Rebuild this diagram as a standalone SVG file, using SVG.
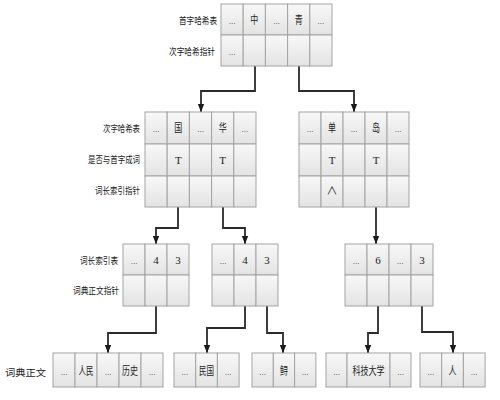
<svg xmlns="http://www.w3.org/2000/svg" width="500" height="400" viewBox="0 0 500 400">
<defs>
<linearGradient id="cg" x1="0" y1="0" x2="0" y2="1">
<stop offset="0" stop-color="#f8f8f8"/>
<stop offset="1" stop-color="#e3e3e3"/>
</linearGradient>
<marker id="arr" viewBox="0 0 8 8" markerWidth="8" markerHeight="8" refX="8" refY="4" orient="auto" markerUnits="userSpaceOnUse">
<path d="M0,0.8 L8,4 L0,7.2 z" fill="#1a1a1a"/>
</marker>
</defs>
<style>
.c{fill:url(#cg);stroke:#a3a3a3;stroke-width:1}
.t{font-family:"Liberation Serif","Noto Sans CJK SC",serif;font-size:11px;fill:#222;text-anchor:middle}
.d{font-family:"Liberation Serif",serif;font-size:9px;fill:#444;text-anchor:middle}
.l{font-family:"Noto Sans CJK SC","Liberation Serif",serif;font-size:9.5px;fill:#222}
.k{fill:none;stroke:#2b2b2b;stroke-width:1.8;marker-end:url(#arr)}
</style>
<rect width="500" height="400" fill="#ffffff"/>

<g id="connectors">
<path class="k" d="M255,66 V91 H201 V112"/>
<path class="k" d="M299,66 V91 H354 V112"/>
<path class="k" d="M178,207 V228 H156 V244"/>
<path class="k" d="M223,207 V228 H245 V244"/>
<path class="k" d="M376,207 V244"/>
<path class="k" d="M156,306 V333 H108 V353"/>
<path class="k" d="M245,306 V328 H207 V353"/>
<path class="k" d="M267,306 V333 H283 V353"/>
<path class="k" d="M378,306 V333 H368 V353"/>
<path class="k" d="M422,306 V332 H453 V353"/>
</g>

<g id="first-hash">
<text class="l" x="179" y="24" textLength="38" lengthAdjust="spacingAndGlyphs">首字哈希表</text>
<text class="l" x="169" y="55" textLength="46" lengthAdjust="spacingAndGlyphs">次字哈希指针</text>
<rect class="c" x="221" y="4" width="22.2" height="31"/>
<rect class="c" x="243.2" y="4" width="22.2" height="31"/>
<rect class="c" x="265.4" y="4" width="22.2" height="31"/>
<rect class="c" x="287.6" y="4" width="22.2" height="31"/>
<rect class="c" x="309.8" y="4" width="22.2" height="31"/>
<rect class="c" x="221" y="35" width="22.2" height="31"/>
<rect class="c" x="243.2" y="35" width="22.2" height="31"/>
<rect class="c" x="265.4" y="35" width="22.2" height="31"/>
<rect class="c" x="287.6" y="35" width="22.2" height="31"/>
<rect class="c" x="309.8" y="35" width="22.2" height="31"/>
<text class="d" x="232.1" y="24">...</text>
<text class="t" x="254.3" y="24" textLength="8" lengthAdjust="spacingAndGlyphs">中</text>
<text class="d" x="276.5" y="24">...</text>
<text class="t" x="298.7" y="24" textLength="8" lengthAdjust="spacingAndGlyphs">青</text>
<text class="d" x="320.9" y="24">...</text>
<text class="d" x="232.1" y="55">...</text>
</g>

<g id="second-hash-left">
<text class="l" x="103" y="132" textLength="37" lengthAdjust="spacingAndGlyphs">次字哈希表</text>
<text class="l" x="88" y="163" textLength="52" lengthAdjust="spacingAndGlyphs">是否与首字成词</text>
<text class="l" x="95" y="194" textLength="45" lengthAdjust="spacingAndGlyphs">词长索引指针</text>
<rect class="c" x="145" y="112" width="22.2" height="32"/>
<rect class="c" x="167.2" y="112" width="22.2" height="32"/>
<rect class="c" x="189.4" y="112" width="22.2" height="32"/>
<rect class="c" x="211.6" y="112" width="22.2" height="32"/>
<rect class="c" x="233.8" y="112" width="22.2" height="32"/>
<rect class="c" x="145" y="144" width="22.2" height="32"/>
<rect class="c" x="167.2" y="144" width="22.2" height="32"/>
<rect class="c" x="189.4" y="144" width="22.2" height="32"/>
<rect class="c" x="211.6" y="144" width="22.2" height="32"/>
<rect class="c" x="233.8" y="144" width="22.2" height="32"/>
<rect class="c" x="145" y="176" width="22.2" height="31"/>
<rect class="c" x="167.2" y="176" width="22.2" height="31"/>
<rect class="c" x="189.4" y="176" width="22.2" height="31"/>
<rect class="c" x="211.6" y="176" width="22.2" height="31"/>
<rect class="c" x="233.8" y="176" width="22.2" height="31"/>
<text class="d" x="156.1" y="132">...</text>
<text class="t" x="178.3" y="132" textLength="8" lengthAdjust="spacingAndGlyphs">国</text>
<text class="d" x="200.5" y="132">...</text>
<text class="t" x="222.7" y="132" textLength="8" lengthAdjust="spacingAndGlyphs">华</text>
<text class="d" x="244.9" y="132">...</text>
<text class="t" x="178.3" y="164">T</text>
<text class="t" x="222.7" y="164">T</text>
</g>

<g id="second-hash-right">
<rect class="c" x="299" y="112" width="22" height="32"/>
<rect class="c" x="321" y="112" width="22" height="32"/>
<rect class="c" x="343" y="112" width="22" height="32"/>
<rect class="c" x="365" y="112" width="22" height="32"/>
<rect class="c" x="387" y="112" width="22" height="32"/>
<rect class="c" x="299" y="144" width="22" height="32"/>
<rect class="c" x="321" y="144" width="22" height="32"/>
<rect class="c" x="343" y="144" width="22" height="32"/>
<rect class="c" x="365" y="144" width="22" height="32"/>
<rect class="c" x="387" y="144" width="22" height="32"/>
<rect class="c" x="299" y="176" width="22" height="31"/>
<rect class="c" x="321" y="176" width="22" height="31"/>
<rect class="c" x="343" y="176" width="22" height="31"/>
<rect class="c" x="365" y="176" width="22" height="31"/>
<rect class="c" x="387" y="176" width="22" height="31"/>
<text class="d" x="310" y="132">...</text>
<text class="t" x="332" y="132" textLength="8" lengthAdjust="spacingAndGlyphs">单</text>
<text class="d" x="354" y="132">...</text>
<text class="t" x="376" y="132" textLength="8" lengthAdjust="spacingAndGlyphs">岛</text>
<text class="d" x="398" y="132">...</text>
<text class="t" x="332" y="164">T</text>
<text class="t" x="376" y="164">T</text>
<text class="t" x="332" y="195" font-size="10">∧</text>
</g>

<g id="length-index-left">
<text class="l" x="80" y="264" textLength="38" lengthAdjust="spacingAndGlyphs">词长索引表</text>
<text class="l" x="73" y="294" textLength="46" lengthAdjust="spacingAndGlyphs">词典正文指针</text>
<rect class="c" x="123" y="244" width="22" height="31"/>
<rect class="c" x="145" y="244" width="22" height="31"/>
<rect class="c" x="167" y="244" width="22" height="31"/>
<rect class="c" x="123" y="275" width="22" height="31"/>
<rect class="c" x="145" y="275" width="22" height="31"/>
<rect class="c" x="167" y="275" width="22" height="31"/>
<text class="d" x="134" y="264">...</text>
<text class="t" x="156" y="264">4</text>
<text class="t" x="178" y="264">3</text>
</g>

<g id="length-index-middle">
<rect class="c" x="212" y="244" width="22" height="31"/>
<rect class="c" x="234" y="244" width="22" height="31"/>
<rect class="c" x="256" y="244" width="22" height="31"/>
<rect class="c" x="212" y="275" width="22" height="31"/>
<rect class="c" x="234" y="275" width="22" height="31"/>
<rect class="c" x="256" y="275" width="22" height="31"/>
<text class="d" x="223" y="264">...</text>
<text class="t" x="245" y="264">4</text>
<text class="t" x="267" y="264">3</text>
</g>

<g id="length-index-right">
<rect class="c" x="345" y="244" width="22" height="31"/>
<rect class="c" x="367" y="244" width="22" height="31"/>
<rect class="c" x="389" y="244" width="22" height="31"/>
<rect class="c" x="411" y="244" width="22" height="31"/>
<rect class="c" x="345" y="275" width="22" height="31"/>
<rect class="c" x="367" y="275" width="22" height="31"/>
<rect class="c" x="389" y="275" width="22" height="31"/>
<rect class="c" x="411" y="275" width="22" height="31"/>
<text class="d" x="356" y="264">...</text>
<text class="t" x="378" y="264">6</text>
<text class="d" x="400" y="264">...</text>
<text class="t" x="422" y="264">3</text>
</g>

<g id="dictionary-label">
<text class="l" x="5" y="376" textLength="41" lengthAdjust="spacingAndGlyphs">词典正文</text>
</g>

<g id="dict-1">
<rect class="c" x="53" y="353" width="22" height="34"/>
<rect class="c" x="75" y="353" width="22" height="34"/>
<rect class="c" x="97" y="353" width="22" height="34"/>
<rect class="c" x="119" y="353" width="22" height="34"/>
<rect class="c" x="141" y="353" width="22" height="34"/>
<text class="d" x="64" y="375">...</text>
<text class="t" x="86" y="375" textLength="15" lengthAdjust="spacingAndGlyphs">人民</text>
<text class="d" x="108" y="375">...</text>
<text class="t" x="130" y="375" textLength="16" lengthAdjust="spacingAndGlyphs">历史</text>
<text class="d" x="152" y="375">...</text>
</g>

<g id="dict-2">
<rect class="c" x="174" y="353" width="21.7" height="34"/>
<rect class="c" x="195.7" y="353" width="21.7" height="34"/>
<rect class="c" x="217.4" y="353" width="21.7" height="34"/>
<text class="d" x="184.8" y="375">...</text>
<text class="t" x="206.5" y="375" textLength="15" lengthAdjust="spacingAndGlyphs">民国</text>
<text class="d" x="228.2" y="375">...</text>
</g>

<g id="dict-3">
<rect class="c" x="252" y="353" width="21.3" height="34"/>
<rect class="c" x="273.3" y="353" width="21.3" height="34"/>
<rect class="c" x="294.6" y="353" width="21.3" height="34"/>
<text class="d" x="262.6" y="375">...</text>
<text class="t" x="283.9" y="375" textLength="8" lengthAdjust="spacingAndGlyphs">鲟</text>
<text class="d" x="305.2" y="375">...</text>
</g>

<g id="dict-4">
<rect class="c" x="326" y="353" width="21" height="34"/>
<rect class="c" x="347" y="353" width="43" height="34"/>
<rect class="c" x="390" y="353" width="21" height="34"/>
<text class="d" x="336.5" y="375">...</text>
<text class="t" x="368.5" y="375" textLength="32" lengthAdjust="spacingAndGlyphs">科技大学</text>
<text class="d" x="400.5" y="375">...</text>
</g>

<g id="dict-5">
<rect class="c" x="420" y="353" width="21.7" height="34"/>
<rect class="c" x="441.7" y="353" width="21.7" height="34"/>
<rect class="c" x="463.4" y="353" width="21.7" height="34"/>
<text class="d" x="430.8" y="375">...</text>
<text class="t" x="452.5" y="375" textLength="8" lengthAdjust="spacingAndGlyphs">人</text>
<text class="d" x="474.2" y="375">...</text>
</g>
</svg>
